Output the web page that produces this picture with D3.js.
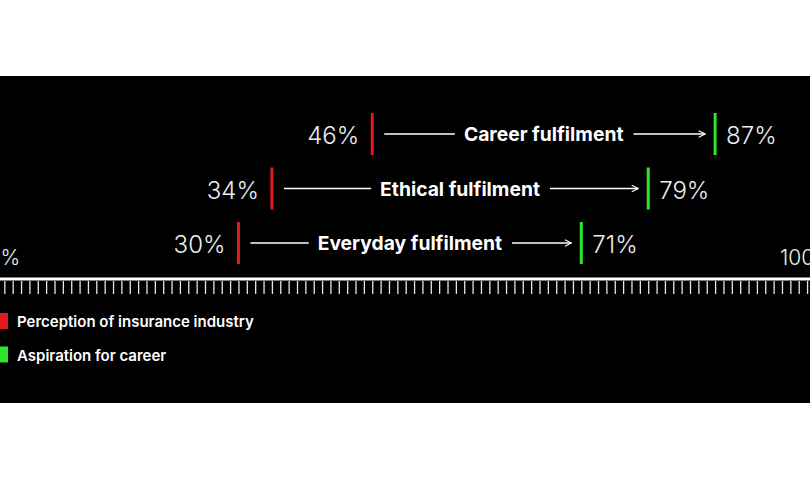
<!DOCTYPE html>
<html>
<head>
<meta charset="utf-8">
<script src="https://cdn.jsdelivr.net/npm/d3@7"></script>
<style>
  body { margin: 0; background: #fff; }
  svg { display: block; font-family: Inter, "Noto Sans", sans-serif; }
</style>
</head>
<body>
<div id="chart"></div>
<script>
// data
var categories = ["Career fulfilment", "Ethical fulfilment", "Everyday fulfilment"];
var perception = [46, 34, 30];
var aspiration = [87, 79, 71];
var seriesNames = ["Perception of insurance industry", "Aspiration for career"];
var seriesColors = ["#e3191c", "#2ee62a"];
var axisLabels = ["0%", "100%"];

var width = 810, height = 480;
var panelTop = 76, panelBottom = 403;
var axisY = 279;

var svg = d3.select("#chart").append("svg")
  .attr("width", width)
  .attr("height", height);

svg.append("rect")
  .attr("x", 0).attr("y", panelTop)
  .attr("width", width).attr("height", panelBottom - panelTop)
  .attr("fill", "#000");

var x = d3.scaleLinear().domain([0, 100]).range([-12.4, 823.8]);
var y = d3.scalePoint().domain(categories).range([134, 243]);

// tick fade
var defs = svg.append("defs");
var grad = defs.append("linearGradient")
  .attr("id", "tickfade")
  .attr("gradientUnits", "userSpaceOnUse")
  .attr("x1", 0).attr("x2", 0).attr("y1", axisY + 2).attr("y2", axisY + 16);
grad.append("stop").attr("offset", "0%").attr("stop-color", "#e6e6e6");
grad.append("stop").attr("offset", "100%").attr("stop-color", "#666");

var arrow = defs.append("marker")
  .attr("id", "arrowhead")
  .attr("viewBox", "0 0 10 10")
  .attr("refX", 9).attr("refY", 5)
  .attr("markerWidth", 8).attr("markerHeight", 8)
  .attr("markerUnits", "userSpaceOnUse")
  .attr("orient", "auto");
arrow.append("path")
  .attr("d", "M1,1 L9,5 L1,9")
  .attr("fill", "none")
  .attr("stroke", "#fff")
  .attr("stroke-width", 1.3);

// axis
var axis = d3.axisBottom(x)
  .tickValues(d3.range(0, 101))
  .tickSize(13)
  .tickSizeOuter(0)
  .tickFormat("");

var ax = svg.append("g")
  .attr("transform", "translate(0," + (axisY + 2) + ")")
  .call(axis);
ax.select(".domain").remove();
ax.selectAll(".tick line")
  .attr("stroke", "url(#tickfade)")
  .attr("stroke-width", 1.3);

svg.append("line")
  .attr("x1", 0).attr("x2", width)
  .attr("y1", axisY).attr("y2", axisY)
  .attr("stroke", "#fff")
  .attr("stroke-width", 3.2);

svg.append("text")
  .attr("x", x(0)).attr("y", 265)
  .attr("fill", "#eee")
  .attr("font-size", 21).attr("font-weight", 300)
  .text(axisLabels[0]);
svg.append("text")
  .attr("x", x(100) + 10).attr("y", 265)
  .attr("text-anchor", "end")
  .attr("fill", "#eee")
  .attr("font-size", 21).attr("font-weight", 300)
  .text(axisLabels[1]);

// rows
var rows = svg.selectAll(".row")
  .data(categories)
  .enter().append("g")
  .attr("class", "row")
  .attr("transform", function(d) { return "translate(0," + y(d) + ")"; });

rows.append("rect")
  .attr("x", function(d, i) { return x(perception[i]) - 1.5; })
  .attr("y", -21).attr("width", 3).attr("height", 42)
  .attr("fill", seriesColors[0]);

rows.append("rect")
  .attr("x", function(d, i) { return x(aspiration[i]) - 1.5; })
  .attr("y", -21).attr("width", 3).attr("height", 42)
  .attr("fill", seriesColors[1]);

rows.append("text")
  .attr("x", function(d, i) { return x(perception[i]) - 13; })
  .attr("y", 10)
  .attr("text-anchor", "end")
  .attr("fill", "#eee")
  .attr("font-size", 24).attr("font-weight", 300)
  .text(function(d, i) { return perception[i] + "%"; });

rows.append("text")
  .attr("x", function(d, i) { return x(aspiration[i]) + 11; })
  .attr("y", 10)
  .attr("fill", "#eee")
  .attr("font-size", 24).attr("font-weight", 300)
  .text(function(d, i) { return aspiration[i] + "%"; });

rows.each(function(d, i) {
  var g = d3.select(this);
  var x0 = x(perception[i]), x1 = x(aspiration[i]);
  var mid = (x0 + x1) / 2;
  var lbl = g.append("text")
    .attr("x", mid).attr("y", 7)
    .attr("text-anchor", "middle")
    .attr("fill", "#fff")
    .attr("font-size", 19.3).attr("font-weight", 700)
    .text(d);
  var w = lbl.node().getComputedTextLength();
  g.append("line")
    .attr("x1", x0 + 12).attr("x2", mid - w / 2 - 9)
    .attr("y1", 0).attr("y2", 0)
    .attr("stroke", "#fff").attr("stroke-width", 1.3);
  g.append("line")
    .attr("x1", mid + w / 2 + 10).attr("x2", x1 - 10)
    .attr("y1", 0).attr("y2", 0)
    .attr("stroke", "#fff").attr("stroke-width", 1.3)
    .attr("marker-end", "url(#arrowhead)");
});

// legend
var legend = svg.selectAll(".legend")
  .data(seriesNames)
  .enter().append("g")
  .attr("class", "legend")
  .attr("transform", function(d, i) { return "translate(0," + (321 + i * 33.5) + ")"; });

legend.append("rect")
  .attr("x", -8).attr("y", -8)
  .attr("width", 16).attr("height", 16)
  .attr("fill", function(d, i) { return seriesColors[i]; });

legend.append("text")
  .attr("x", 17).attr("y", 6)
  .attr("fill", "#fff")
  .attr("font-size", 15).attr("font-weight", 600)
  .text(function(d) { return d; });
</script>
</body>
</html>
